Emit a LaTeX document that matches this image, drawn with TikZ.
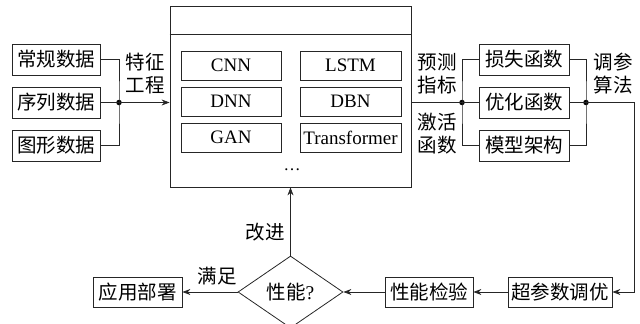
\documentclass[tikz,border=0pt]{standalone}
\usepackage{fontspec}
\setmainfont{Liberation Serif}
\newfontfamily\cjk{Noto Sans CJK SC}
\usetikzlibrary{shapes.geometric,arrows.meta}
\begin{document}
\begin{tikzpicture}[x=1pt,y=-1pt,
  cn/.style={font=\cjk\fontsize{19.5}{23}\selectfont},
  box/.style={cn,draw=black!85,line width=0.8pt,inner sep=0pt,minimum height=31pt},
  mbox/.style={draw=black!85,line width=0.8pt,inner sep=0pt,minimum height=29pt,font=\fontsize{19}{22}\selectfont},
  lbl/.style={cn,align=center,inner sep=0pt},
  ln/.style={draw=black!85,line width=0.8pt},
  arr/.style={ln,-{Stealth[length=8pt,width=6pt]}},
  jdot/.style={circle,fill=black,inner sep=0pt,minimum size=5.5pt}]
\useasboundingbox (0,0) rectangle (640,324);
\clip (0,0) rectangle (640,324);
% left inputs
\node[box,minimum width=88pt] (l1) at (56,59.5) {常规数据};
\node[box,minimum width=88pt] (l2) at (56,102.5) {序列数据};
\node[box,minimum width=88pt] (l3) at (56,145.5) {图形数据};
% big box
\node[draw=black!85,line width=0.8pt,minimum width=241pt,minimum height=181pt,inner sep=0pt] (big) at (290.5,96.5) {};
\draw[ln] ([yshift=-29pt]big.north west) -- ([yshift=-29pt]big.north east);
\node[mbox,minimum width=100pt] (cnn) at (231,65.5) {CNN};
\node[mbox,minimum width=100pt] (dnn) at (231,101.5) {DNN};
\node[mbox,minimum width=100pt] (gan) at (231,137.5) {GAN};
\node[mbox,minimum width=101pt] (lstm) at (350.5,65.5) {LSTM};
\node[mbox,minimum width=101pt] (dbn) at (350.5,101.5) {DBN};
\node[mbox,minimum width=101pt] (trf) at (350.5,137.5) {Transformer};
\node[font=\fontsize{17}{20}\selectfont,inner sep=0pt] (dots) at (292,170) {\ldots};
% right boxes
\node[box,minimum width=90pt] (r1) at (524,59.5) {损失函数};
\node[box,minimum width=90pt] (r2) at (524,102.5) {优化函数};
\node[box,minimum width=90pt] (r3) at (524,145.5) {模型架构};
% bottom row
\node[box,minimum width=104pt,minimum height=30pt] (hp) at (560,292) {超参数调优};
\node[box,minimum width=88pt,minimum height=30pt] (pc) at (429,292) {性能检验};
\node[draw=black!85,line width=0.8pt,diamond,minimum width=105pt,minimum height=72pt,inner sep=0pt] (dm) at (290.5,292) {};
\node[cn,inner sep=0pt] (dmt) at (290.5,292) {性能\fontspec{Liberation Serif}?};
\node[box,minimum width=89pt,minimum height=30pt] (ap) at (137.5,292) {应用部署};
% junctions
\node[jdot] (jl) at (119,102.5) {};
\node[jdot] (jr1) at (462,102.5) {};
\node[jdot] (jr2) at (586,102.5) {};
\coordinate (cr) at (634,102.5);
% connectors
\draw[ln] (l1.east) -| (jl.center) |- (l3.east);
\draw[ln] (l2.east) -- (jl.center);
\draw[arr] (jl.center) -- (jl.center -| big.west);
\draw[ln] (jl.center -| big.east) -- (jr1.center);
\draw[ln] (r1.west) -| (jr1.center) |- (r3.west);
\draw[ln] (jr1.center) -- (r2.west);
\draw[ln] (r1.east) -| (jr2.center) |- (r3.east);
\draw[ln] (r2.east) -- (jr2.center);
\draw[arr] (jr2.center) -- (cr) |- (hp.east);
\draw[arr] (hp.west) -- (pc.east);
\draw[arr] (pc.west) -- (dm.east);
\draw[arr] (dm.west) -- (ap.east);
\draw[arr] (dm.north) -- (dm.north |- big.south);
% labels
\node[lbl] (t1) at (145,73.5) {特征\\工程};
\node[lbl] (t2) at (437,73.5) {预测\\指标};
\node[lbl] (t3) at (437,133.5) {激活\\函数};
\node[lbl] (t4) at (613,73.5) {调参\\算法};
\node[lbl] (t5) at (265,232) {改进};
\node[lbl] (t6) at (217,276) {满足};
\end{tikzpicture}
\end{document}
